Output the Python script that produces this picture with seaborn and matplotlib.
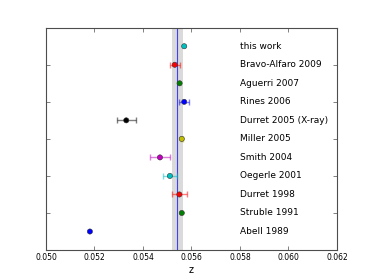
import matplotlib
matplotlib.use("Agg")
import matplotlib.pyplot as plt
import seaborn as sns
import pandas as pd

labels = ["Abell 1989", "Struble 1991", "Durret 1998", "Oegerle 2001", "Smith 2004",
          "Miller 2005", "Durret 2005 (X-ray)", "Rines 2006", "Aguerri 2007",
          "Bravo-Alfaro 2009", "this work"]
z_vals = [0.05181, 0.05560, 0.05550, 0.05511, 0.05470,
          0.05560, 0.05331, 0.05570, 0.05551, 0.05531, 0.05570]
z_errs = [0.0, 0.0, 0.0003, 0.0003, 0.0004,
          0.00005, 0.0004, 0.0002, 0.0, 0.0002, 0.0]
colors = ["b", "g", "r", "c", "m", "y", "k", "b", "g", "r", "c"]
positions = list(range(1, len(labels) + 1))
z_mean = 0.05542
z_band = (0.05521, 0.05564)
xticks = [0.050, 0.052, 0.054, 0.056, 0.058, 0.060, 0.062]

sns.set_style("white")
plt.rcParams['font.family'] = ['DejaVu Sans']
plt.rcParams['text.color'] = 'black'
plt.rcParams['axes.labelcolor'] = 'black'
plt.rcParams['xtick.color'] = 'black'
plt.rcParams['ytick.color'] = 'black'

df = pd.DataFrame({"z": z_vals, "pos": positions, "label": labels, "err": z_errs})

fig = plt.figure(figsize=(3.74, 2.80), dpi=100)
ax = fig.add_axes([0.123, 0.107, 0.778, 0.794])

ax.axvspan(z_band[0], z_band[1], color="0.82", alpha=0.8, lw=0, zorder=0)
ax.axvline(z_mean, color="b", lw=0.8, alpha=0.7, zorder=1)

for xv, yv, e, c in zip(z_vals, positions, z_errs, colors):
    if e > 0:
        ax.errorbar(xv, yv, xerr=e, fmt="none", ecolor=c, alpha=0.5,
                    capsize=2, elinewidth=1, capthick=1, zorder=2)

sns.scatterplot(data=df, x="z", y="pos", hue="label", palette=dict(zip(labels, colors)),
                s=14, edgecolor="0.2", linewidth=0.4, legend=False, ax=ax, zorder=3)

for yv, lab in zip(positions, labels):
    ax.text(0.0580, yv, lab, fontsize=6.5, va="center", ha="left", color="black")

ax.set_xlim(0.050, 0.062)
ax.set_ylim(0, 12)
ax.set_xticks(xticks)
ax.set_xticklabels([f"{t:.3f}" for t in xticks], fontsize=5.5)
ax.set_yticks([2, 4, 6, 8, 10])
ax.set_yticklabels([])
ax.set_xlabel("z", fontsize=7, labelpad=2)
ax.set_ylabel("")
ax.tick_params(direction="in", length=3, width=0.5, top=True, right=True,
               bottom=True, left=True, color="0.3", labelcolor="black", pad=2)
for s in ax.spines.values():
    s.set_color("0.3")
    s.set_linewidth(0.8)

fig.savefig("out.png", dpi=100)
